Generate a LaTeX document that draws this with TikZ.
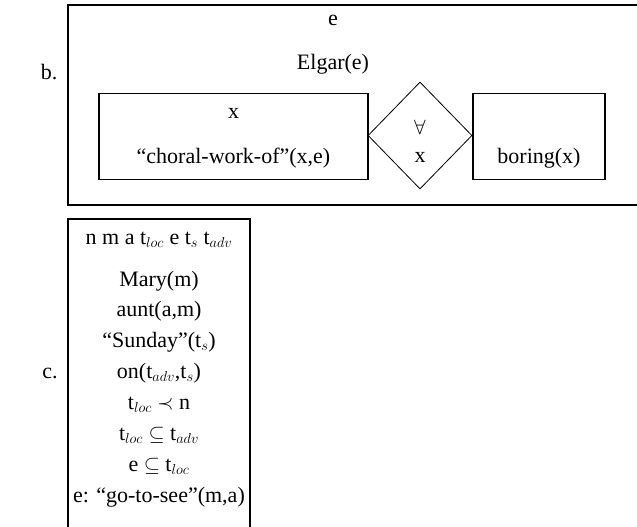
\documentclass[tikz,border=0pt]{standalone}
\usepackage{fontspec}
\setmainfont{Liberation Serif}
\usetikzlibrary{shapes.geometric}
\tikzset{
  txt/.style={anchor=base, inner sep=0pt, font=\fontsize{22}{26}\selectfont},
  outerbox/.style={draw, line width=1.7pt},
  innerbox/.style={draw, line width=1.4pt, inner sep=0pt},
  quant/.style={draw, diamond, line width=0.8pt, inner sep=0pt}
}
\begin{document}
\begin{tikzpicture}[x=1pt, y=-1pt]
\useasboundingbox (0,0) rectangle (637,527);
% b.
\node[txt] (blab) at (49,79) {b.};
\draw[outerbox] (68,5) rectangle (660,205);
\node[txt] (e) at (333,26) {e};
\node[txt] (elgar) at (333,70) {Elgar(e)};
\node[innerbox, minimum width=269pt, minimum height=86pt] (cw) at (233.5,136.5) {};
\node[txt] (cwx) at (233.5,118) {x};
\node[txt] (cwt) at (233.5,163) {``choral-work-of''(x,e)};
\node[quant, minimum width=104pt, minimum height=107pt] (q) at (420,135.5) {};
\node[txt] (qa) at (420,134) {$\forall$};
\node[txt] (qx) at (420,162) {x};
\node[innerbox, minimum width=132pt, minimum height=86pt] (bx) at (539,136.5) {};
\node[txt] (bt) at (539,163) {boring(x)};
% c.
\node[txt] (clab) at (50,378) {c.};
\draw[outerbox] (68,219) rectangle (250,560);
\node[txt] (h) at (159,244) {n m a t$_{loc}$ e t$_s$ t$_{adv}$};
\node[txt] (l1) at (159,286) {Mary(m)};
\node[txt] (l2) at (159,316) {aunt(a,m)};
\node[txt] (l3) at (159,347) {``Sunday''(t$_s$)};
\node[txt] (l4) at (159,378) {on(t$_{adv}$,t$_s$)};
\node[txt] (l5) at (159,409) {t$_{loc}$ $\prec$ n};
\node[txt] (l6) at (159,440) {t$_{loc}$ $\subseteq$ t$_{adv}$};
\node[txt] (l7) at (159,471) {e $\subseteq$ t$_{loc}$};
\node[txt] (l8) at (159,502) {e: ``go-to-see''(m,a)};
\end{tikzpicture}
\end{document}
